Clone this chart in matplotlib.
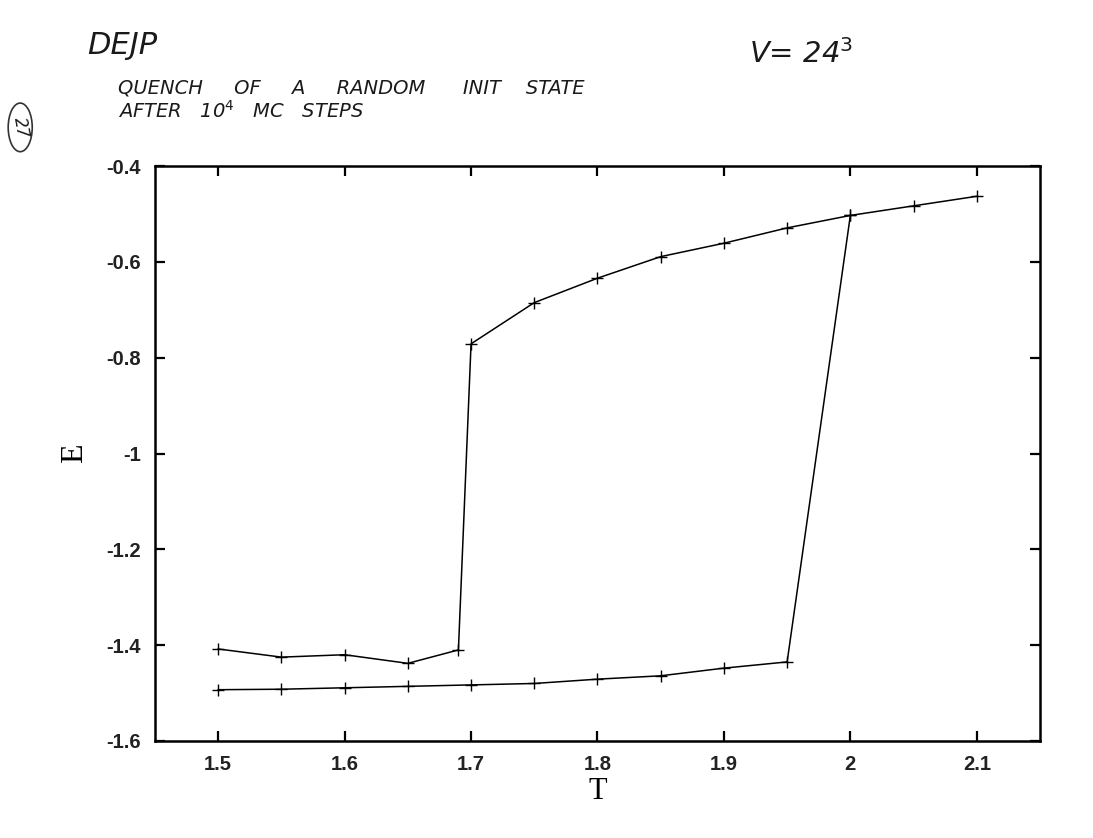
import matplotlib.pyplot as plt
from matplotlib.patches import Ellipse

# -----------------------
# data
# -----------------------
# branch started from random init state (jumps at T=1.7)
T_a = [1.50, 1.55, 1.60, 1.65, 1.69, 1.70, 1.75, 1.80, 1.85, 1.90, 1.95, 2.00, 2.05, 2.10]
E_a = [-1.408, -1.425, -1.420, -1.438, -1.410, -0.771, -0.685, -0.634, -0.589,
       -0.561, -0.529, -0.503, -0.483, -0.463]

# lower branch (jumps at T=1.95 -> 2.0)
T_b = [1.50, 1.55, 1.60, 1.65, 1.70, 1.75, 1.80, 1.85, 1.90, 1.95, 2.00]
E_b = [-1.493, -1.492, -1.489, -1.486, -1.483, -1.480, -1.471, -1.464, -1.448,
       -1.435, -0.503]

x_ticks = [1.5, 1.6, 1.7, 1.8, 1.9, 2.0, 2.1]
x_labels = ["1.5", "1.6", "1.7", "1.8", "1.9", "2", "2.1"]
y_ticks = [-1.6, -1.4, -1.2, -1.0, -0.8, -0.6, -0.4]
y_labels = ["-1.6", "-1.4", "-1.2", "-1", "-0.8", "-0.6", "-0.4"]

fig = plt.figure(figsize=(10.93, 8.38), dpi=100)
ax = fig.add_axes([0.1418, 0.1158, 0.8097, 0.686])

ax.plot(T_b, E_b, color="black", lw=1.1, marker="+", ms=9, mew=1.0)
ax.plot(T_a, E_a, color="black", lw=1.1, marker="+", ms=9, mew=1.0)

ax.set_xlim(1.45, 2.15)
ax.set_ylim(-1.6, -0.4)
ax.set_xticks(x_ticks)
ax.set_xticklabels(x_labels)
ax.set_yticks(y_ticks)
ax.set_yticklabels(y_labels)
ax.tick_params(direction="in", length=7, width=1.6, top=True, right=True,
               pad=10, labelsize=14.5)
for lab in ax.get_xticklabels() + ax.get_yticklabels():
    lab.set_family("Liberation Sans")
    lab.set_fontweight("bold")
    lab.set_color("#222222")
for sp in ax.spines.values():
    sp.set_linewidth(1.8)

ax.set_xlabel("T", family="Liberation Serif", fontsize=22, labelpad=2)
ax.set_ylabel("E", family="Liberation Serif", fontsize=23)
ax.yaxis.set_label_coords(-0.075, 0.5)

# handwritten notes on the page
hand = dict(family="DejaVu Sans", style="italic", color="#1a1a1a")
fig.text(0.080, 0.935, "DEJP", fontsize=22, **hand)
fig.text(0.108, 0.889, "QUENCH     OF     A     RANDOM      INIT    STATE", fontsize=14, **hand)
fig.text(0.108, 0.859, "AFTER   10$^4$   MC   STEPS", fontsize=14, **hand)
fig.text(0.685, 0.925, "V= 24$^3$", fontsize=21, **hand)
fig.text(0.0185, 0.848, "27", fontsize=12, rotation=-80, ha="center", va="center", **hand)
fig.add_artist(Ellipse((0.0185, 0.848), 0.022, 0.058, transform=fig.transFigure,
                       fill=False, lw=1.2, color="#333333"))

plt.savefig("out.png", dpi=100)
